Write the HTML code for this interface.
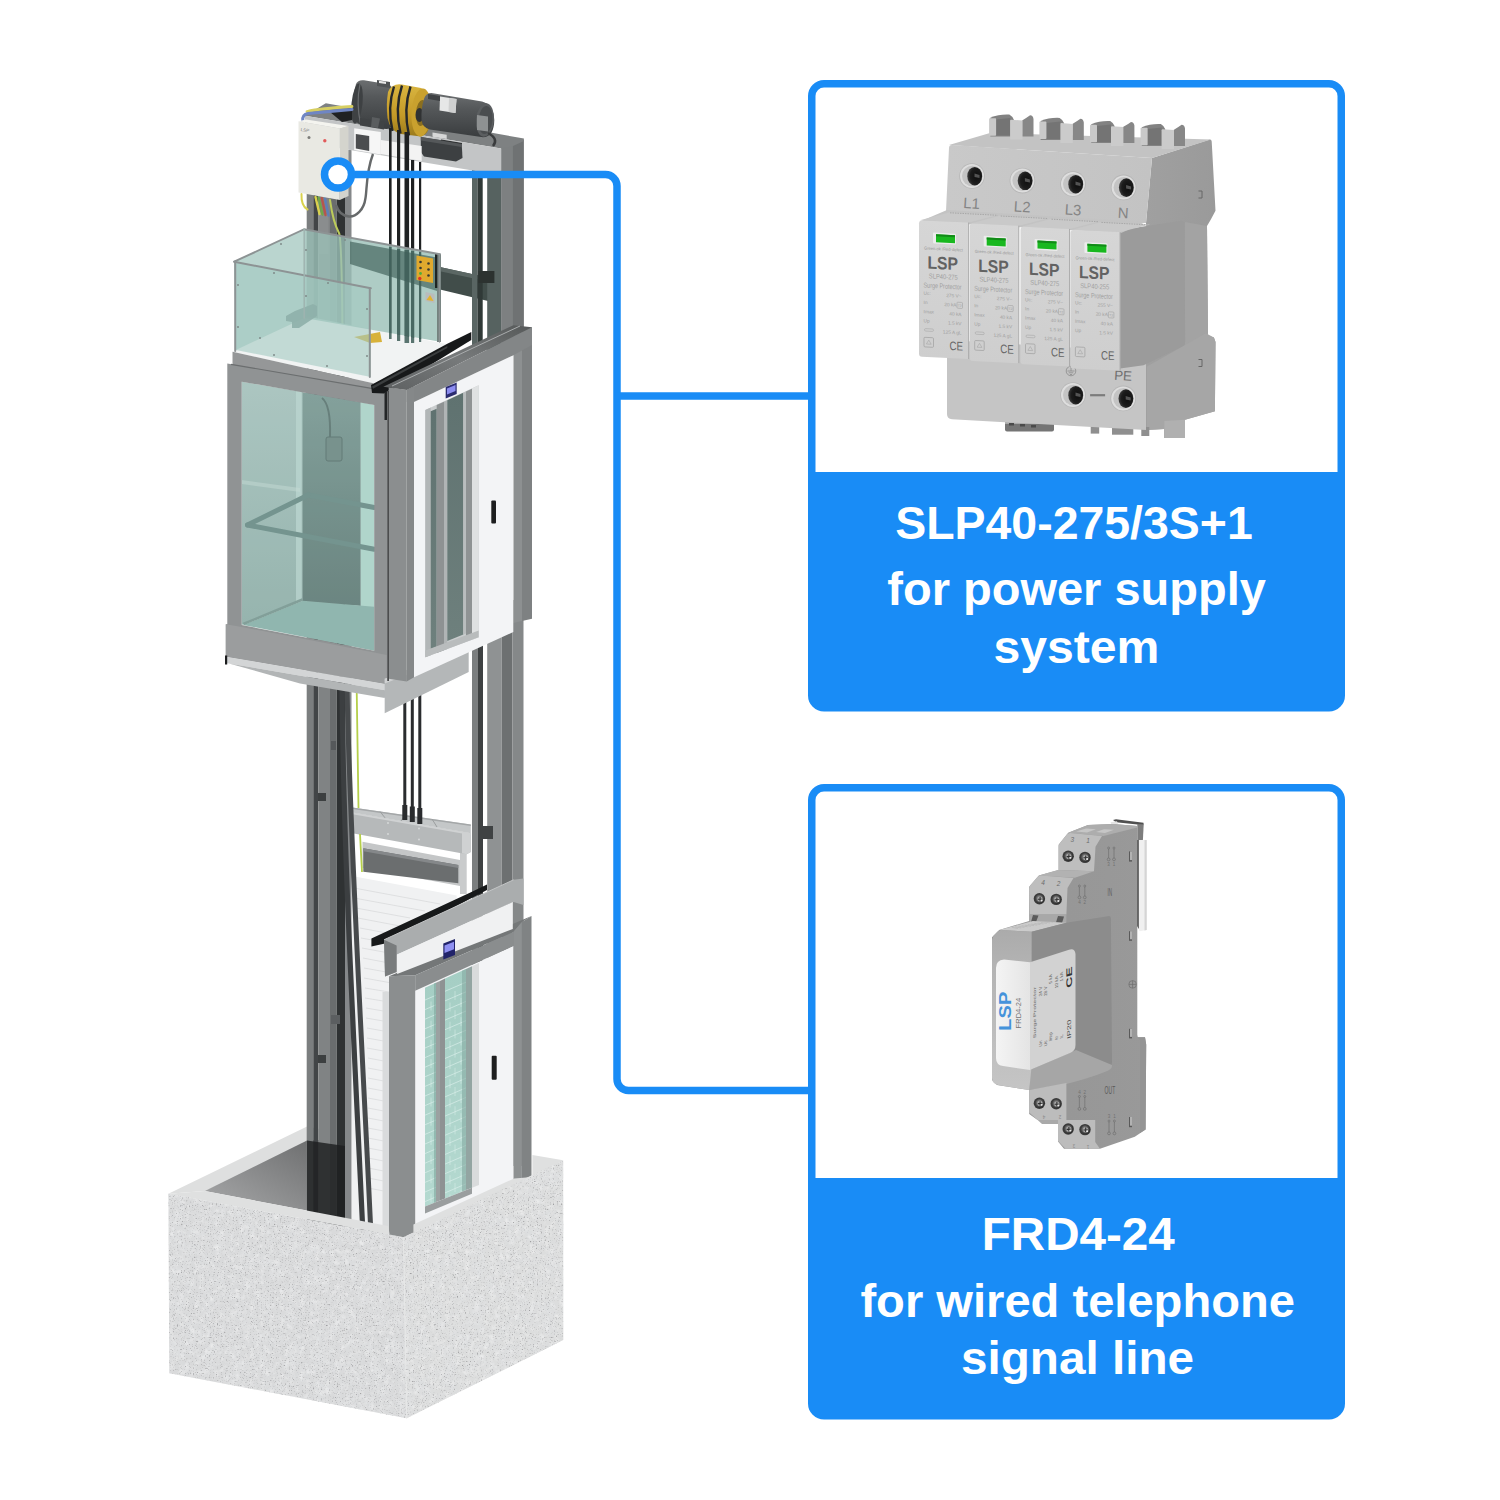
<!DOCTYPE html>
<html lang="en"><head><meta charset="utf-8"><title>Elevator surge protection</title>
<style>
html,body{margin:0;padding:0;background:#fff;}
body{width:1500px;height:1500px;overflow:hidden;font-family:"Liberation Sans",sans-serif;}
svg{display:block}
text{font-family:"Liberation Sans",sans-serif}
</style></head><body>
<svg width="1500" height="1500" viewBox="0 0 1500 1500">
<defs>
<linearGradient id="gPit" x1="1" y1="0" x2="0" y2="1"><stop offset="0" stop-color="#6b6c6d"/><stop offset="1" stop-color="#a9aaab"/></linearGradient>
<filter id="fNoise" x="0" y="0" width="100%" height="100%"><feTurbulence type="fractalNoise" baseFrequency="0.75" numOctaves="2" seed="3"/><feColorMatrix type="matrix" values="0 0 0 0 0.35  0 0 0 0 0.35  0 0 0 0 0.36  1.6 1.6 1.6 0 -2.62"/><feComposite operator="in" in2="SourceGraphic"/></filter>
<filter id="fNoise2" x="0" y="0" width="100%" height="100%"><feTurbulence type="fractalNoise" baseFrequency="0.07" numOctaves="4" seed="8"/><feColorMatrix type="matrix" values="0 0 0 0 0.72  0 0 0 0 0.73  0 0 0 0 0.74  1.6 1.6 1.6 0 -2.15"/><feComposite operator="in" in2="SourceGraphic"/></filter>
<filter id="fNoise3" x="0" y="0" width="100%" height="100%"><feTurbulence type="fractalNoise" baseFrequency="0.2" numOctaves="3" seed="21"/><feColorMatrix type="matrix" values="0 0 0 0 1  0 0 0 0 1  0 0 0 0 1  1.3 1.3 1.3 0 -1.8"/><feComposite operator="in" in2="SourceGraphic"/></filter>
</defs>
<!-- concrete pit: back parts -->
<g id="concBack">
<!-- left rim top -->
<polygon points="168.400,1193.800 307,1126.600 320,1129 320,1142 204.800,1191" fill="#dedfdf"/>
<!-- pit inner wall -->
<polygon points="204.800,1191 307,1140.600 320,1140 320,1213 " fill="url(#gPit)"/>
</g>

<defs>
<linearGradient id="gMotor" x1="0" y1="0" x2="0" y2="1"><stop offset="0" stop-color="#6b6e70"/><stop offset=".35" stop-color="#55585a"/><stop offset="1" stop-color="#3a3d3f"/></linearGradient>
<linearGradient id="gYel" x1="0" y1="0" x2="0" y2="1"><stop offset="0" stop-color="#d9b540"/><stop offset=".6" stop-color="#c49a28"/><stop offset="1" stop-color="#9a7a1c"/></linearGradient>
</defs>
<!-- ===== gantry (back frame) ===== -->
<g id="gantry">
<!-- left column -->
<rect x="306.7" y="180" width="6.6" height="1060" fill="#7b7e7f"/>
<rect x="313.3" y="180" width="5" height="1060" fill="#424547"/>
<rect x="318.3" y="180" width="11.7" height="1060" fill="#808384"/>
<rect x="330" y="180" width="6.7" height="1060" fill="#6a6d6e"/>
<rect x="336.7" y="180" width="8.3" height="1060" fill="#2f3233"/>
<rect x="345" y="150" width="6.5" height="1090" fill="#85888a"/>
<!-- crossbar -->
<polygon points="441,267.300 488,277.500 488,301 441,289.800" fill="#414d4a"/><polygon points="441,267.300 488,277.500 488,281.500 441,271.500" fill="#5b6764"/>
<!-- right column inner rail -->
<rect x="472" y="170" width="5.500" height="180" fill="#596563"/><rect x="472" y="600" width="5.500" height="570" fill="#7b7e7f"/>
<rect x="477.500" y="170" width="5.200" height="180" fill="#303937"/><rect x="477.500" y="600" width="5.500" height="570" fill="#3e4142"/>
<!-- right column -->
<rect x="487.2" y="170" width="14" height="180" fill="#566260"/>
<rect x="501.1" y="146" width="12" height="204" fill="#7d8081"/>
<rect x="512.9" y="140" width="11" height="210" fill="#6f7273"/>
<rect x="487.2" y="600" width="14.500" height="566" fill="#8f9293"/>
<rect x="501.700" y="600" width="10.800" height="566" fill="#6d7071"/>
<rect x="512.500" y="600" width="11" height="566" fill="#858889"/>
<rect x="478.400" y="271" width="16" height="12" fill="#2c3230"/>
<!-- top beam -->
<polygon points="325.8,103.3 523.9,138.5 523.9,141 513,146 501.1,148.6 305,115.7" fill="#7e8182"/>
<polygon points="305,115.7 501.1,148.6 501.1,175.3 305,142.6" fill="#c3c5c6"/>

<!-- crossbar -->
</g>
<!-- ===== machine ===== -->
<g id="machine">
<!-- motor base right -->
<polygon points="420.800,137 461.700,143.500 462.500,158 456,161.500 424,156.500 420.800,152" fill="#3d4042"/>
<polygon points="420.800,137 461.700,143.500 461.700,147 420.800,140.500" fill="#55585a"/>
<!-- left motor body -->
<path d="M356 84 Q358 79.500 364 80.300 L388 84.200 Q392.500 85.500 392.500 92 L392.500 124 Q391 129.500 385 128.800 L362 125 Q356 123.500 354.500 118 Q350.500 103 356 84 Z" fill="url(#gMotor)"/>
<ellipse cx="357" cy="103.500" rx="5.500" ry="20" fill="#3e4143" transform="rotate(6 357 103.500)"/>
<path d="M360 84 Q356 103 360.500 123.500" stroke="#696c6e" stroke-width="1.200" fill="none"/>
<polygon points="377,80 390,82 390,88 377,86" fill="#505355"/><polygon points="379,80.800 386,81.800 386,84 379,83" fill="#e6e6e6"/>
<polygon points="360,118 384,122 384,129.500 360,125.500" fill="#404345"/>
<polygon points="372,117 380,118.500 378,128 371,127" fill="#5a5d5f"/>
<!-- yellow sheave -->
<path d="M388 92 Q392 83 402 84.500 L421 88 Q431.500 92 431.700 113 Q431 134 421 136.500 L401 134 Q390 131 387.500 118 Q386 104 388 92 Z" fill="url(#gYel)"/>
<ellipse cx="421.500" cy="112.500" rx="10" ry="24" fill="#c9a12e" transform="rotate(4 421.500 112.500)"/>
<ellipse cx="421.500" cy="113" rx="5.500" ry="13" fill="#8b6f1f" transform="rotate(4 421.500 113)"/>
<ellipse cx="419.500" cy="115" rx="4" ry="7" fill="#303233"/>
<g stroke="#26282a" stroke-width="2.400" fill="none">
<path d="M394 86.500 Q387 108 392.500 131"/>
<path d="M402 85.500 Q394.500 108 400.500 133.500"/>
<path d="M410.500 86.500 Q403 109 409 135.500"/>
</g>
<!-- right motor -->
<path d="M424 99 Q426 92.300 433 93.200 L482 101.500 Q493.500 104.500 494.300 120 Q494 137 483 137.200 L430 129.500 Q422.500 128 421.500 120 Q421 108 424 99 Z" fill="url(#gMotor)"/>
<ellipse cx="485" cy="120" rx="9" ry="16.700" fill="#5b5e60" transform="rotate(5 485 120)"/>
<ellipse cx="485.500" cy="120" rx="7" ry="14" fill="#4a4d4f" transform="rotate(5 485.500 120)"/>
<polygon points="477,115 488,116.500 488,131.500 477,130" fill="#8e9192"/>
<polygon points="440,96.500 456.500,99 455.500,113 439.500,110.500" fill="#e6e7e7"/>
<polygon points="449,98 456.500,99 455.500,113 448.500,112" fill="#cfd0d0"/>
<polygon points="428,94 440,96 440,101 428,99" fill="#3f4244"/>
<polygon points="432.500,132.500 446.700,134.700 446.700,139 432.500,136.800" fill="#d7d8d8"/>
<path d="M488 133 Q499 139 493 146" stroke="#3a3c3d" stroke-width="2.500" fill="none"/>
<path d="M441 140 L462 143.500" stroke="#2c2e2f" stroke-width="1"/>
</g>
<!-- junction boxes -->
<g id="jboxes">
<polygon points="380.8,140 421.7,146 421.7,161 380.8,154" fill="#f3f3f3"/>
<polygon points="354.2,128.3 380.8,132 380.8,154.5 354.2,150" fill="#f6f6f6"/>
<polygon points="355.8,134 369.2,136 369.2,151 355.8,148.5" fill="#4b4d4f"/>
<path d="M373 154 C366 172 367 190 365.500 198 C364 210 356 217 349 216.500 C342 216 338 211 336 205" stroke="#66696a" stroke-width="2.400" fill="none"/>
</g>
<!-- ropes -->
<g id="ropes" fill="#1f2122">
<rect x="389" y="128" width="2.6" height="215"/>
<rect x="397" y="130" width="3.2" height="215"/>
<rect x="404.5" y="132" width="4.6" height="215"/>
<rect x="411" y="160" width="3.2" height="187"/>
<rect x="419" y="162" width="2.2" height="180"/>
</g>
<!-- wires -->
<g id="wires" fill="none" stroke-width="2.400" stroke-linecap="round">
<polygon points="330,112 352,108 352,120 342,122" fill="#1f2122" stroke="none"/>
<path d="M307 111.500 Q320 108.500 352 106.500" stroke="#d7cf63" stroke-width="2.800"/>
<path d="M302.800 121 Q302 114.500 308 113.500 L352 109.500" stroke="#6f86c4" stroke-width="3"/>
<path d="M301.500 194 Q301 206 307.500 209.500" stroke="#d9d24e" stroke-width="2"/>
<rect x="318.500" y="214" width="10" height="40" fill="#8a8d8e" stroke="none"/>
<path d="M315.500 197 L319.500 214" stroke="#d9d24e"/>
<path d="M318.500 197.500 L322.500 214.500" stroke="#6fa64a"/>
<path d="M321.800 198 L325.500 215" stroke="#b6564c"/>
<path d="M325 198.500 L328.500 215.500" stroke="#5f7fb5"/>
<path d="M330 200 Q333 222 339 233 Q342 240 342.500 345" stroke="#bccb5a" stroke-width="2"/>
</g>
<!-- control box -->
<g id="cbox">
<polygon points="298.500,121.200 306,119.500 348.500,126 339.800,128.500" fill="#f4f4ef"/>
<polygon points="339.800,128.500 348.500,126 348.500,196 339.800,200" fill="#d4d4cd"/>
<polygon points="298.500,121.200 339.800,128.500 339.800,200 298.500,192.500" fill="#e9e9e3"/>
<circle cx="324.800" cy="140.700" r="1.700" fill="#e25a5a"/>
<circle cx="309" cy="137.500" r="1.500" fill="#7d7d7a"/>
<text x="300.500" y="131" font-size="4.500" fill="#77777a" transform="rotate(8 300 131)">LSP</text>
</g>

<!-- ===== mid shaft (between cabin and lower door) ===== -->
<g id="mid">
<!-- white brick back wall -->
<polygon points="352,876 456.700,895.500 456.700,1000 389.200,1000 389.200,1235 352,1235" fill="#f0f1f2"/>
<g stroke="#d9dbdc" stroke-width=".8" fill="none">
<path d="M354 888 L440 904"/><path d="M354 898 L425 911"/><path d="M356 908 L410 918"/><path d="M358 918 L400 926"/><path d="M360 928 L392 934"/>
<path d="M361 938 L389 943"/><path d="M362 948 L389 953"/><path d="M363 958 L389 963"/><path d="M364 968 L389 972.500"/><path d="M364 978 L389 982.500"/>
<path d="M365 988 L389 992"/><path d="M365 998 L389 1002"/><path d="M366 1008 L389 1012"/><path d="M366 1018 L389 1022"/><path d="M367 1028 L389 1032"/>
<path d="M367 1038 L389 1042"/><path d="M367 1048 L389 1052"/><path d="M368 1058 L389 1062"/><path d="M368 1068 L389 1072"/><path d="M368 1078 L389 1082"/>
<path d="M368 1088 L389 1092"/><path d="M368 1098 L389 1102"/><path d="M368 1108 L389 1112"/><path d="M368 1118 L389 1122"/><path d="M368 1128 L389 1132"/>
<path d="M368 1138 L389 1142"/><path d="M368 1148 L389 1152"/><path d="M368 1158 L389 1162"/><path d="M368 1168 L389 1172"/><path d="M368 1178 L389 1182"/><path d="M368 1188 L389 1192"/>
</g>
<rect x="382.500" y="992" width="6.700" height="240" fill="#d9dbdc"/>
<!-- lower dark bar -->
<polygon points="362.500,841.700 460,860 460,886 362.500,868" fill="#c4c6c7"/>
<polygon points="363.300,848.300 458.300,865 458.300,883.300 363.300,871.700" fill="#6b6e6f"/>
<polygon points="363.300,848.300 458.300,865 458.300,868 363.300,851.300" fill="#85888a"/>
<rect x="460" y="852" width="6.700" height="42" fill="#c9cbcc"/>
<!-- counterweight beam -->
<polygon points="352.500,807.500 470.800,824.500 470.800,833.300 352.500,812.500" fill="#c4c7c8"/>
<polygon points="352.500,807.500 470.800,824.500 470.800,826 352.500,809" fill="#a4a7a8"/>
<g stroke="#9b9e9f" stroke-width="1" fill="none"><path d="M380 811.500 L385 817.800"/><path d="M432 819 L437 827"/><path d="M405 815 L401 821"/></g>
<polygon points="352.500,812.500 470.800,833.300 470.800,852 466.700,854.200 352.500,833.300" fill="#b6b9ba"/>
<polygon points="352.500,812.500 470.800,833.300 470.800,835 352.500,814.200" fill="#d0d2d3"/>
<polygon points="462,831.700 470.800,833.300 470.800,852 466.700,854.200 462,853.300" fill="#cfd1d2"/>
<g fill="#d9dbdc"><circle cx="388" cy="823" r=".9"/><circle cx="388" cy="834" r=".9"/><circle cx="419" cy="828.500" r=".9"/><circle cx="419" cy="839.500" r=".9"/></g>
<!-- yellow-green wire -->
<path d="M356.700 690 L358.500 808 M360 834 L362 872" stroke="#b5cf4a" stroke-width="1.800" fill="none"/>
<!-- ropes below cabin -->
<g fill="#2a2c2e">
<rect x="403.300" y="690" width="3" height="118"/><rect x="410.800" y="690" width="3" height="120"/><rect x="418.300" y="690" width="3" height="122"/>
<rect x="402.300" y="805" width="5" height="15"/><rect x="409.800" y="806.500" width="5" height="15.500"/><rect x="417.300" y="808" width="5" height="16"/>
</g>
<!-- cables on left column -->
<path d="M342 690 C344 860 352 1000 363 1235" stroke="#3c3f41" stroke-width="5.200" fill="none"/>
<path d="M347 690 C351 860 360 1000 371 1235" stroke="#474a4c" stroke-width="5" fill="none"/>
<!-- brackets -->
<rect x="331" y="741" width="5" height="9" fill="#55585a"/><rect x="318" y="793" width="8" height="8" fill="#3c3f40"/>
<rect x="331" y="1015" width="9" height="9" fill="#5b5e60"/><rect x="318" y="1055" width="8" height="8" fill="#3c3f40"/>
<rect x="478" y="826" width="15" height="13" fill="#3f4243"/>
</g>

<defs>
<linearGradient id="gGlassL" x1="0" y1="0" x2="0" y2="1"><stop offset="0" stop-color="#adc6c1"/><stop offset="1" stop-color="#93b0aa"/></linearGradient>
<linearGradient id="gWallR" x1="0" y1="0" x2="0" y2="1"><stop offset="0" stop-color="#7d9994"/><stop offset=".55" stop-color="#6a8580"/><stop offset="1" stop-color="#5f7773"/></linearGradient>
<linearGradient id="gDoorGlass" x1="0" y1="0" x2="0" y2="1"><stop offset="0" stop-color="#5f7270"/><stop offset="1" stop-color="#6e807d"/></linearGradient>
<linearGradient id="gHdrTop" x1="0" y1="1" x2="1" y2="0"><stop offset="0" stop-color="#5e6162"/><stop offset=".5" stop-color="#777a7b"/><stop offset="1" stop-color="#565959"/></linearGradient>
</defs>
<!-- ===== cabin roof + railing ===== -->
<g id="roof">
<!-- roof slab top -->
<polygon points="232.5,351.7 305,316 447.5,344.2 373.3,383.3" fill="#f1f3f3"/>
<!-- slab front-left edge -->
<polygon points="232.5,351.7 373.3,383.3 373.3,394 232.5,366" fill="#959798"/>
<!-- items seen through: crossbar behind back-right glass -->
<!-- back-left railing glass -->
<polygon points="234.2,261.7 304.2,229.2 304.2,318 236,350" fill="#b0cfc8" opacity=".88"/>
<!-- back-right railing glass -->
<polygon points="304.2,229.2 440,254.2 440,341.7 304.2,318" fill="#9abfb6" opacity=".8"/>
<polygon points="350,241.500 439.500,258 439.500,291.700 350,264" fill="#4a6a63" opacity=".72"/>
<!-- ropes through glass (darker teal) -->
<g fill="#3f5f59" opacity=".85"><rect x="389" y="247" width="2.6" height="92"/><rect x="397" y="249" width="3.2" height="92"/><rect x="404.5" y="250" width="4.6" height="93"/><rect x="411" y="251" width="3.2" height="92"/><rect x="419" y="252" width="2.200" height="90"/></g>
<!-- buffer object on roof -->
<polygon points="286,316 295,311 313,304 317,306 317,316 299,328 292,328 292,322 286,321" fill="#6f8a86" opacity=".9"/>
<!-- warning sticker -->
<polygon points="354,337 380,332 382,342 370,343" fill="#d8b23a"/>
<!-- pendant box (yellow) -->
<polygon points="416.500,255.500 433,258.500 433,283 416.500,280" fill="#e0a92e"/>
<g fill="#3a3a32"><circle cx="420.500" cy="262" r="1.300"/><circle cx="428.500" cy="263.500" r="1.300"/><circle cx="420.500" cy="268" r="1.300"/><circle cx="428.500" cy="269.500" r="1.300"/><circle cx="428.500" cy="275.500" r="1.300"/></g>
<circle cx="420.500" cy="273.500" r="1.400" fill="#4fae3c"/><circle cx="419.800" cy="278.500" r="1.700" fill="#d8342a"/>
<rect x="437" y="254" width="4" height="88" fill="#75827f"/><rect x="435" y="254" width="2.300" height="34" fill="#1f2423"/>
<polygon points="425.500,292 434.500,294 434.500,303 425.500,301" fill="#b9bcbc"/>
<polygon points="430,295 433.500,301 426.500,300" fill="#e2b32f"/>
<!-- front-left railing glass -->
<polygon points="234.2,261.7 370.8,288.3 370.8,377 236,350" fill="#a3cac1" opacity=".6"/>
<!-- rails -->
<g stroke="#8d9394" stroke-width="2" fill="none" stroke-linecap="round">
<path d="M234.2 261.7 L304.2 229.2 L440 254.2"/>
<path d="M234.2 261.7 L370.8 288.3"/>
<path d="M235.2 261.7 V351"/>
<path d="M369.800 288.300 V377"/>
<path d="M304.200 229.200 V318" stroke-width="1.5" stroke="#9fb4b0"/>
<path d="M439.500 254.200 V342" stroke-width="1.500"/>
</g>
<g fill="#7f8b8a"><circle cx="238" cy="285" r="1"/><circle cx="238" cy="327" r="1"/><circle cx="274" cy="273" r="1"/><circle cx="328" cy="283" r="1"/><circle cx="367" cy="309" r="1"/><circle cx="367" cy="356" r="1"/><circle cx="274" cy="355" r="1"/><circle cx="327" cy="366" r="1"/><circle cx="306" cy="250" r="1"/><circle cx="306" cy="296" r="1"/><circle cx="260" cy="338" r="1"/><circle cx="281" cy="244" r="1"/><circle cx="345" cy="240" r="1"/></g>
</g>
<!-- ===== cabin body ===== -->
<g id="cabin">
<!-- interior seen through front-left glass -->
<polygon points="241.7,381.7 302.5,392 302.5,601 241.7,625" fill="url(#gGlassL)"/>
<polygon points="301.500,392 360.8,402 360.8,606 301.500,601" fill="url(#gWallR)"/>
<polygon points="360.8,402 374.2,405 374.2,651 360.8,606" fill="#b3d8ce"/>
<polygon points="243.3,625 302.5,600.8 374.2,606.7 374.2,650.8" fill="#8cb3ab"/>
<!-- lighter strips on left glass -->
<polygon points="296,391 302.5,392 302.5,601 296,603.500" fill="#c2dbd5" opacity=".7"/>
<polygon points="241.700,480 300,488 300,492 241.700,484" fill="#c9ddd8" opacity=".5"/>
<!-- intercom on back wall -->
<path d="M322 398 Q331 405 330 437" stroke="#5a706c" stroke-width="2" fill="none"/>
<rect x="326" y="437" width="16" height="24" rx="2" fill="#6e8782" stroke="#556b67" stroke-width="1"/>
<!-- handrails -->
<g stroke="#698984" stroke-width="5" fill="none" stroke-linecap="round">
<path d="M308.3 495 L374.2 507.5"/>
<path d="M247.5 525 L308.3 495"/>
<path d="M247.5 525 L374.2 549.2"/>
</g>
<!-- floor skirting -->
<path d="M243.300 624 L302.500 599.500" stroke="#7a9690" stroke-width="2.500" fill="none"/>
<!-- glass sheen overlay -->
<polygon points="241.7,381.7 374.2,405 374.2,650.8 241.7,625" fill="#a7c9c1" opacity=".18"/>
<!-- frame left face -->
<path fill="#909394" fill-rule="evenodd" d="M227.3 363.5 L387.5 391 L387.5 684.5 L225.8 656.7 L225.800 624.200 L227.300 624.200 Z M241.7 381.7 L374.2 405 L374.2 650.8 L241.7 625 Z"/>
<path d="M231 364.300 L373 388.700" stroke="#6b6e6f" stroke-width="1.200" fill="none"/>
<!-- sill -->
<polygon points="225.8,624.2 241.700,627 374.200,652.500 386.7,655 386.7,684.2 225.8,656.7" fill="#9b9d9e"/>
<polygon points="225.800,656.700 386.700,684.200 386.700,690.500 229,663.500 225.800,663" fill="#d3d5d6"/>
<rect x="225" y="655.500" width="2.200" height="9" fill="#1c1d1e"/>
<!-- underside platform -->
<polygon points="229,663.500 386.700,690.500 384.700,698 300,683.500" fill="#b2b5b6"/>
</g>

<!-- ===== upper landing door frame ===== -->
<g id="doorUp">
<!-- toe guard / apron under cabin door -->
<polygon points="384.700,678.700 468.700,646.700 468.700,672 384.700,713.300" fill="#b4b7b8"/>
<polygon points="384.700,678.700 468.700,646.700 468.700,651 384.700,683.500" fill="#cfd1d2"/>
<!-- black track on cabin roof -->
<polygon points="371,385 447.3,343.700 471.300,332 471.300,340 384,393.500 372,393" fill="#17191a"/>
<polygon points="372,386.500 447.300,346 447.300,348 373,388.700" fill="#3b3e3f"/>
<!-- right post -->
<polygon points="513.300,335 522,330 522,621 513.300,623" fill="#8d9091"/>
<polygon points="522,330 532,327.300 532,618.700 522,621" fill="#7e8182"/>
<!-- white panel -->
<polygon points="414,402 513.300,355.300 513.300,632 414,677.300" fill="#f3f4f6"/>
<!-- door glass assembly -->
<polygon points="425.300,410 478.700,385.300 478.700,637.300 425.300,657.300" fill="#c9cccd"/>
<polygon points="472,388.500 478.700,385.300 478.700,637.300 472,640" fill="#dfe1e2"/>
<polygon points="425.300,410 430.700,407.500 430.700,655.300 425.300,657.300" fill="#b2b6b7"/>
<polygon points="430.700,411.300 436.700,408.700 436.700,646.700 430.700,649" fill="url(#gDoorGlass)"/>
<polygon points="436.700,405 444,401.700 444,650.300 436.700,653" fill="#8e9293"/>
<polygon points="444,401.700 447.300,400.200 447.300,649 444,650.300" fill="#b0b4b5"/>
<polygon points="447.300,400.200 463.300,392.800 463.300,634.500 447.300,641" fill="url(#gDoorGlass)"/>
<polygon points="463.300,392.800 466,391.500 466,633.500 463.300,634.500" fill="#b9bdbe"/>
<polygon points="466,391.500 472,388.700 472,638.300 466,640.700" fill="#8f9394"/>
<polygon points="425.300,650.500 478.700,630.500 478.700,637.300 425.300,657.300" fill="#b9bcbd"/>
<!-- keyhole -->
<rect x="491.300" y="500.500" width="4.700" height="23" rx="1" fill="#1d1e1f"/>
<!-- header front -->
<polygon points="406.700,390 532,327.300 532,345 513.300,355.300 414,402 406.700,402" fill="#838687"/>
<!-- left post -->
<polygon points="388.700,387.300 406.700,390 406.700,681.500 388.700,678.700" fill="#8b8e8f"/>
<polygon points="406.700,390 414,386.300 414,677.300 406.700,681.500" fill="#858889"/>
<rect x="387.300" y="391" width="1.600" height="290" fill="#3c3e3f"/>
<!-- header top face -->
<polygon points="383.300,386.700 513.300,325.300 532,327.300 406.700,390" fill="url(#gHdrTop)"/>
<path d="M392 386 L520 326" stroke="#a9acad" stroke-width="1" fill="none"/>
<!-- display -->
<polygon points="445.700,387 456.700,382.500 456.700,394 445.700,398.500" fill="#2b2c70"/>
<polygon points="447,388.500 455.500,385 455.500,391 447,394.500" fill="#8c8cf0"/>
<rect x="384.500" y="392" width="2.500" height="28" fill="#232526"/>
</g>

<defs>
<linearGradient id="gLowGlass" x1="0" y1="0" x2="0" y2="1"><stop offset="0" stop-color="#a5cec4"/><stop offset="1" stop-color="#b4d9d0"/></linearGradient>
</defs>
<!-- ===== lower landing door frame ===== -->
<g id="doorLow">
<!-- black track -->
<polygon points="371.400,938.600 470.400,892.400 487,884.500 487,890 385,943.500 371.400,946.400" fill="#17191a"/>
<!-- header channel -->
<polygon points="384,939.800 513.600,879.800 523.500,878.500 523.500,905 513.600,902 396.600,954.800 396.600,972 385,976.500" fill="#aaadae"/>
<path d="M384 939.800 L513.600 879.800" stroke="#c3c5c6" stroke-width="1" fill="none"/>
<polygon points="384,939.800 396.600,945.500 396.600,972 385,976.500" fill="#797c7d"/>
<!-- frame top face (mostly hidden by white block) -->
<polygon points="389,976.300 531.500,916 521.900,921.900 513.300,932 415.200,975.200" fill="#747778"/>
<!-- white block -->
<polygon points="397.100,954.400 512.800,902.100 512.800,929 397.100,974.100" fill="#f0f1f2"/>
<!-- right post -->
<polygon points="513.300,932 521.900,921.900 521.900,1182 513.300,1186" fill="#8e9192"/>
<polygon points="521.900,921.900 531.500,916 531.500,1176 521.900,1182" fill="#808384"/>
<!-- white panel -->
<polygon points="415.200,990.700 513.300,945.900 513.300,1186 415.200,1232" fill="#f3f4f6"/>
<!-- door strips -->
<polygon points="425,987.7 436,982.7 436,1202.1 425,1206.5" fill="url(#gLowGlass)"/>
<polygon points="436,982.7 440,980.9 440,1200.5 436,1202.1" fill="#9ba1a1"/>
<polygon points="440,980.9 445,978.6 445,1198.5 440,1200.5" fill="#8e9293"/>
<polygon points="445,978.6 466,969.0 466,1190.1 445,1198.5" fill="url(#gLowGlass)"/>
<polygon points="466,969.0 472,966.3 472,1187.7 466,1190.1" fill="#93a5a2"/>
<polygon points="472,966.3 479,963.1 479,1184.9 472,1187.7" fill="#d9dbdc"/>
<g stroke="#dbefeb" stroke-width=".8" fill="none" opacity=".85"><path d="M425 1000.0 L436 995.2 M445 991.3 L466 982.2"/><path d="M425 1009.6 L436 1004.8 M445 1000.9 L466 991.8"/><path d="M425 1019.2 L436 1014.4 M445 1010.5 L466 1001.4"/><path d="M425 1028.8 L436 1024.0 M445 1020.1 L466 1011.0"/><path d="M425 1038.4 L436 1033.6 M445 1029.7 L466 1020.6"/><path d="M425 1048.0 L436 1043.2 M445 1039.3 L466 1030.2"/><path d="M425 1057.6 L436 1052.8 M445 1048.9 L466 1039.8"/><path d="M425 1067.2 L436 1062.4 M445 1058.5 L466 1049.4"/><path d="M425 1076.8 L436 1072.0 M445 1068.1 L466 1059.0"/><path d="M425 1086.4 L436 1081.6 M445 1077.7 L466 1068.6"/><path d="M425 1096.0 L436 1091.2 M445 1087.3 L466 1078.2"/><path d="M425 1105.6 L436 1100.8 M445 1096.9 L466 1087.8"/><path d="M425 1115.2 L436 1110.4 M445 1106.5 L466 1097.4"/><path d="M425 1124.8 L436 1120.0 M445 1116.1 L466 1107.0"/><path d="M425 1134.4 L436 1129.6 M445 1125.7 L466 1116.6"/><path d="M425 1144.0 L436 1139.2 M445 1135.3 L466 1126.2"/><path d="M425 1153.6 L436 1148.8 M445 1144.9 L466 1135.8"/><path d="M425 1163.2 L436 1158.4 M445 1154.5 L466 1145.4"/><path d="M425 1172.8 L436 1168.0 M445 1164.1 L466 1155.0"/><path d="M425 1182.4 L436 1177.6 M445 1173.7 L466 1164.6"/><path d="M425 1192.0 L436 1187.2 M445 1183.3 L466 1174.2"/><path d="M425 1201.6 L436 1196.8 M445 1192.9 L466 1183.8"/><path d="M425 1211.2 L436 1206.4 M445 1202.5 L466 1193.4"/></g>
<g stroke="#dbefeb" stroke-width=".7" fill="none" opacity=".7"><path d="M431 1001.5 v9 M455 991.0 v9 M450 1002.5 v9 M461 998.0 v9"/><path d="M431 1020.7 v9 M455 1010.2 v9 M450 1021.7 v9 M461 1017.2 v9"/><path d="M431 1039.9 v9 M455 1029.4 v9 M450 1040.9 v9 M461 1036.4 v9"/><path d="M431 1059.1 v9 M455 1048.6 v9 M450 1060.1 v9 M461 1055.6 v9"/><path d="M431 1078.3 v9 M455 1067.8 v9 M450 1079.3 v9 M461 1074.8 v9"/><path d="M431 1097.5 v9 M455 1087.0 v9 M450 1098.5 v9 M461 1094.0 v9"/><path d="M431 1116.7 v9 M455 1106.2 v9 M450 1117.7 v9 M461 1113.2 v9"/><path d="M431 1135.9 v9 M455 1125.4 v9 M450 1136.9 v9 M461 1132.4 v9"/><path d="M431 1155.1 v9 M455 1144.6 v9 M450 1156.1 v9 M461 1151.6 v9"/><path d="M431 1174.3 v9 M455 1163.8 v9 M450 1175.3 v9 M461 1170.8 v9"/><path d="M431 1193.5 v9 M455 1183.0 v9 M450 1194.5 v9 M461 1190.0 v9"/></g>
<polygon points="434,983.6 436,982.7 436,1202.1 434,1202.9" fill="#7fa69d" opacity=".6"/>
<polygon points="462,970.8 466,969.0 466,1190.1 462,1191.7" fill="#86aaa2" opacity=".6"/>
<polygon points="425,1206.5 472,1187.7 472,1193.7 425,1213.5" fill="#9a9e9f"/>
<!-- keyhole -->
<rect x="491.700" y="1055.800" width="5" height="24" rx="1" fill="#1d1e1f"/>
<!-- header front -->
<polygon points="415.200,975.200 513.300,932 513.300,945.900 415.200,990.700" fill="#8a8d8e"/>
<!-- left post -->
<polygon points="389,976.300 415.200,975.200 415.200,1238 406.700,1241 389,1238" fill="#8b8e8f"/>
<!-- display -->
<polygon points="443.300,943.500 455,939 455,955 443.300,959.500" fill="#22246a"/>
<polygon points="444.500,945.500 454,941.800 454,949.200 444.500,952.900" fill="#8f90f2"/>
</g>

<!-- concrete pit: front parts -->
<g id="concFront">
<!-- dark pit shadow over column bottoms -->
<polygon points="307,1140.600 345,1146 345,1230 307,1222" fill="#1d1f20" opacity=".82"/>
<!-- front rim top -->
<polygon points="168.400,1193.800 204.800,1191 388.200,1226 389.600,1234.600 403.600,1237.200" fill="#dfe0e0"/>
<!-- right rim top -->
<polygon points="403.600,1237.200 413.400,1235.500 413.400,1224.600 514.200,1178.400 532.400,1177 563.200,1160.200 532.400,1155 532.400,1176" fill="#dfe0e0"/>
<!-- front-left face -->
<polygon points="168.400,1193.800 403.600,1237.200 406.700,1418.300 169.300,1373.300" fill="#d9dadb"/>
<!-- right face -->
<polygon points="403.600,1237.200 563.200,1160.200 563.300,1340 406.700,1418.300" fill="#dcdddd"/>
<!-- texture -->
<g>
<polygon points="168.400,1193.800 403.600,1237.200 563.200,1160.200 563.300,1340 406.700,1418.300 169.300,1373.300" fill="#000" filter="url(#fNoise2)"/>
<polygon points="168.400,1193.800 403.600,1237.200 563.200,1160.200 563.300,1340 406.700,1418.300 169.300,1373.300" fill="#000" filter="url(#fNoise3)" opacity=".4"/>
<polygon points="168.400,1193.800 403.600,1237.200 563.200,1160.200 563.300,1340 406.700,1418.300 169.300,1373.300" fill="#000" filter="url(#fNoise)"/>
</g>
<path d="M403.600 1237.200 L406.700 1418.300" stroke="#e6e7e7" stroke-width="1.200" fill="none"/>
</g>

<!-- connector lines -->
<g fill="none" stroke="#198cf6" stroke-width="7.5">
<path d="M355 174.5 H605.5 A11.5 11.5 0 0 1 617 186 V1079 A11.5 11.5 0 0 0 628.5 1090.5 H810"/>
<path d="M617 396 H810"/>
<circle cx="338" cy="174.5" r="13.5" fill="#fff"/>
</g>
<!-- panel 1 -->
<g>
<rect x="808" y="80" width="537" height="631.5" rx="16" fill="#198cf6"/>
<path d="M815.5 472 V96 A8.5 8.5 0 0 1 824 87.5 H1329 A8.5 8.5 0 0 1 1337.5 96 V472 Z" fill="#fff"/>
<g fill="#fff" font-weight="700" font-size="46.5" text-anchor="middle">
<text x="1074" y="538.8" textLength="357.5" lengthAdjust="spacingAndGlyphs">SLP40-275/3S+1</text>
<text x="1076.6" y="605.3" textLength="378.5" lengthAdjust="spacingAndGlyphs">for power supply</text>
<text x="1076.4" y="663.4" textLength="166" lengthAdjust="spacingAndGlyphs">system</text>
</g>
</g>
<!-- panel 2 -->
<g>
<rect x="808" y="784" width="537" height="635.5" rx="16" fill="#198cf6"/>
<path d="M815.5 1178 V800 A8.5 8.5 0 0 1 824 791.5 H1329 A8.5 8.5 0 0 1 1337.5 800 V1178 Z" fill="#fff"/>
<g fill="#fff" font-weight="700" font-size="46.5" text-anchor="middle">
<text x="1078.3" y="1249.7" textLength="193" lengthAdjust="spacingAndGlyphs">FRD4-24</text>
<text x="1077.7" y="1316.5" textLength="434.5" lengthAdjust="spacingAndGlyphs">for wired telephone</text>
<text x="1077.5" y="1374" textLength="233" lengthAdjust="spacingAndGlyphs">signal line</text>
</g>
</g>

<defs>
<linearGradient id="sFront" x1="0" y1="0" x2="1" y2="0"><stop offset="0" stop-color="#c9c9c9"/><stop offset="1" stop-color="#c3c3c3"/></linearGradient>
<linearGradient id="sSide" x1="0" y1="0" x2="1" y2="0"><stop offset="0" stop-color="#a0a0a0"/><stop offset="1" stop-color="#9a9a9a"/></linearGradient>
<linearGradient id="sMod" x1="0" y1="0" x2="0" y2="1"><stop offset="0" stop-color="#d6d6d6"/><stop offset="1" stop-color="#cecece"/></linearGradient>
<radialGradient id="sHole" cx=".62" cy=".5" r=".6"><stop offset="0" stop-color="#0e0e0e"/><stop offset=".7" stop-color="#1c1c1c"/><stop offset="1" stop-color="#3a3a3a"/></radialGradient>
</defs>
<g id="spd">
<path d="M1152 158 L1209 139.700 Q1211.500 139 1211.700 141.500 L1215.500 210.700 L1210.700 219.700 L1207 226 L1208 335.700 L1213.900 337.600 L1215.500 342 L1214.900 411.200 L1185 419.700 L1185 437.900 L1164.300 437.900 L1164.300 429 L1146 430 L1146 223 Z" fill="url(#sSide)"/>
<polygon points="1185,222 1207,226 1208,335.700 1185,346" fill="#a3a3a3"/>
<polygon points="1147,366.400 1205.900,333.300 1213.900,337.600 1215.500,342 1214.900,411.200 1185,419.700 1185,437.900 1164.300,437.900 1164.300,429 1147,430" fill="#a6a6a6"/>
<polygon points="1164.300,421 1185,419.700 1185,437.900 1164.300,437.900" fill="#b0b0b0"/>
<polygon points="949,145 990,133 1211,139.500 1152,158" fill="#c3c3c3"/>
<path d="M952 146.500 L1150 159.500" stroke="#d9d9d9" stroke-width="1.500" fill="none"/>
<path d="M990.3 117.7 Q999.1 114.0 1009.3 114.5 Q1012.1 116.0 1013.7 119.5 V136.5 H990.3 Z" fill="#828282"/>
<path d="M996.1 119.5 L1010.1 118.0 V135.5 H996.1 Z" fill="#747474"/>
<rect x="989.1" y="118.2" width="7" height="17.500" rx=".8" fill="#c9c9c9"/>
<path d="M1022.1 120.5 Q1027.1 117.5 1030.1 115.3 Q1033.1 115.5 1033.5 119.0 V136.5 H1022.1 Z" fill="#878787"/>
<path d="M1010.1 120.7 Q1010.1 119.7 1011.1 119.7 L1022.5 120.5 V139.5 H1010.1 Z" fill="#cbcbcb"/>
<path d="M1040.6 121.1 Q1049.4 117.4 1059.6 117.9 Q1062.4 119.4 1064.0 122.9 V139.9 H1040.6 Z" fill="#828282"/>
<path d="M1046.4 122.9 L1060.4 121.4 V138.9 H1046.4 Z" fill="#747474"/>
<rect x="1039.4" y="121.6" width="7" height="17.500" rx=".8" fill="#c9c9c9"/>
<path d="M1072.4 123.9 Q1077.4 120.9 1080.4 118.7 Q1083.4 118.9 1083.8 122.4 V139.9 H1072.4 Z" fill="#878787"/>
<path d="M1060.4 124.1 Q1060.4 123.1 1061.4 123.1 L1072.8 123.9 V142.9 H1060.4 Z" fill="#cbcbcb"/>
<path d="M1091.2 124.3 Q1100.0 120.6 1110.2 121.1 Q1113.0 122.6 1114.6 126.1 V143.1 H1091.2 Z" fill="#828282"/>
<path d="M1097.0 126.1 L1111.0 124.6 V142.1 H1097.0 Z" fill="#747474"/>
<rect x="1090.0" y="124.8" width="7" height="17.500" rx=".8" fill="#c9c9c9"/>
<path d="M1123.0 127.1 Q1128.0 124.1 1131.0 121.9 Q1134.0 122.1 1134.4 125.6 V143.1 H1123.0 Z" fill="#878787"/>
<path d="M1111.0 127.3 Q1111.0 126.3 1112.0 126.3 L1123.4 127.1 V146.1 H1111.0 Z" fill="#cbcbcb"/>
<path d="M1141.8 127.2 Q1150.6 123.5 1160.8 124.0 Q1163.6 125.5 1165.2 129.0 V146.0 H1141.8 Z" fill="#828282"/>
<path d="M1147.6 129.0 L1161.6 127.5 V145.0 H1147.6 Z" fill="#747474"/>
<rect x="1140.6" y="127.7" width="7" height="17.500" rx=".8" fill="#c9c9c9"/>
<path d="M1173.6 130.0 Q1178.6 127.0 1181.6 124.8 Q1184.6 125.0 1185.0 128.5 V146.0 H1173.6 Z" fill="#878787"/>
<path d="M1161.6 130.2 Q1161.6 129.2 1162.6 129.2 L1174.0 130.0 V149.0 H1161.6 Z" fill="#cbcbcb"/>
<path d="M949 148 Q949 144.700 952.500 145 L1152 158 L1146 223 L946 211 Z" fill="url(#sFront)"/>
<rect x="1005" y="420" width="49" height="11.500" rx="2" fill="#757575"/><rect x="1005" y="420" width="49" height="4" fill="#a9a9a9"/>
<g fill="#4a4a4a"><rect x="1009" y="423" width="5" height="2.500"/><rect x="1020" y="424" width="5" height="2.500"/><rect x="1031" y="425" width="5" height="2.500"/></g>
<g fill="#8f8f8f"><rect x="1090.700" y="425" width="8.500" height="8.600"/><rect x="1112" y="426" width="21.300" height="8.700"/><rect x="1141.300" y="427" width="8" height="9"/></g>
<path d="M947 340 L1146 352 L1146 430 L952 419.300 Q947 419 947 414 Z" fill="#c5c5c5"/>
<circle cx="972" cy="176" r="12.800" fill="#b7b7b7"/><circle cx="972" cy="176" r="12" fill="#dedede"/><circle cx="972.3" cy="176" r="10.300" fill="#c4c4c4"/><ellipse cx="974.7" cy="176.2" rx="7.400" ry="9.300" fill="url(#sHole)"/><path d="M974.5 173.5 l5 1.500 v3 l-5 -1z" fill="#6a6a6a" opacity=".75"/>
<circle cx="1022.4" cy="180.6" r="12.800" fill="#b7b7b7"/><circle cx="1022.4" cy="180.6" r="12" fill="#dedede"/><circle cx="1022.6999999999999" cy="180.6" r="10.300" fill="#c4c4c4"/><ellipse cx="1025.1" cy="180.79999999999998" rx="7.400" ry="9.300" fill="url(#sHole)"/><path d="M1024.9 178.1 l5 1.500 v3 l-5 -1z" fill="#6a6a6a" opacity=".75"/>
<circle cx="1073" cy="184" r="12.800" fill="#b7b7b7"/><circle cx="1073" cy="184" r="12" fill="#dedede"/><circle cx="1073.3" cy="184" r="10.300" fill="#c4c4c4"/><ellipse cx="1075.7" cy="184.2" rx="7.400" ry="9.300" fill="url(#sHole)"/><path d="M1075.5 181.5 l5 1.500 v3 l-5 -1z" fill="#6a6a6a" opacity=".75"/>
<circle cx="1123.6" cy="187.4" r="12.800" fill="#b7b7b7"/><circle cx="1123.6" cy="187.4" r="12" fill="#dedede"/><circle cx="1123.8999999999999" cy="187.4" r="10.300" fill="#c4c4c4"/><ellipse cx="1126.3" cy="187.6" rx="7.400" ry="9.300" fill="url(#sHole)"/><path d="M1126.1 184.9 l5 1.500 v3 l-5 -1z" fill="#6a6a6a" opacity=".75"/>
<circle cx="1073" cy="395" r="12.800" fill="#b7b7b7"/><circle cx="1073" cy="395" r="12" fill="#dedede"/><circle cx="1073.3" cy="395" r="10.300" fill="#c4c4c4"/><ellipse cx="1075.7" cy="395.2" rx="7.400" ry="9.300" fill="url(#sHole)"/><path d="M1075.5 392.5 l5 1.500 v3 l-5 -1z" fill="#6a6a6a" opacity=".75"/>
<circle cx="1123.2" cy="398.4" r="12.800" fill="#b7b7b7"/><circle cx="1123.2" cy="398.4" r="12" fill="#dedede"/><circle cx="1123.5" cy="398.4" r="10.300" fill="#c4c4c4"/><ellipse cx="1125.9" cy="398.59999999999997" rx="7.400" ry="9.300" fill="url(#sHole)"/><path d="M1125.7 395.9 l5 1.500 v3 l-5 -1z" fill="#6a6a6a" opacity=".75"/>
<rect x="1090.100" y="394.100" width="15" height="2.200" fill="#7c7c7c"/>
<g font-size="15" fill="#858585">
<text x="963" y="208" transform="rotate(3.400 963 208)">L1</text>
<text x="1013.6" y="211.4" transform="rotate(3.400 1013.6 211.4)">L2</text>
<text x="1064.4" y="214.6" transform="rotate(3.400 1064.4 214.6)">L3</text>
<text x="1117.6" y="217.7" transform="rotate(3.400 1117.6 217.7)">N</text>
</g>
<text x="1114" y="379.700" font-size="13.400" fill="#707070" transform="rotate(3.400 1113 379)">PE</text>
<g stroke="#8a8a8a" stroke-width=".8" fill="none"><circle cx="1071" cy="371" r="4.800"/><path d="M1071 366.200 V371 M1067.500 371 H1074.500 M1068.700 372.800 H1073.300 M1069.900 374.500 H1072.100"/></g>
<path d="M1120.100 229.900 L1181 220.800 Q1184.200 220.300 1184.300 223.500 L1185.200 341 Q1185.200 345 1181.500 346.800 L1143.600 365.300 L1120.100 368.500 Z" fill="#9b9b9b"/>
<path d="M1198.500 191 h3.500 v7 h-3.500" stroke="#666" stroke-width="1" fill="none"/><path d="M1198.500 359.500 h3.500 v7 h-3.500" stroke="#666" stroke-width="1" fill="none"/>
<polygon points="947,210 1146,222 1121,233 920,221.500" fill="#c3c3c3"/>
<polygon points="920,220.3 950,212.3 998.7,214.8 968.7,222.5" fill="#c9c9c9"/>
<path d="M950 212.8 L997.7 215.3" stroke="#9d9d9d" stroke-width=".8" stroke-dasharray="1.5 1" fill="none"/>
<polygon points="970.7,223.5 1000.7,215.5 1048.8,218.0 1018.8,225.7" fill="#c9c9c9"/>
<path d="M1000.7 216.0 L1047.8 218.5" stroke="#9d9d9d" stroke-width=".8" stroke-dasharray="1.5 1" fill="none"/>
<polygon points="1021.5,226.7 1051.5,218.7 1099.6,221.2 1069.6,228.89999999999998" fill="#c9c9c9"/>
<path d="M1051.5 219.2 L1098.6 221.7" stroke="#9d9d9d" stroke-width=".8" stroke-dasharray="1.5 1" fill="none"/>
<polygon points="1071.4,229.9 1101.4,221.9 1150.1,224.4 1120.1,232.1" fill="#c9c9c9"/>
<path d="M1101.4 222.4 L1149.1 224.9" stroke="#9d9d9d" stroke-width=".8" stroke-dasharray="1.5 1" fill="none"/>
<path d="M919 223.3 Q919 220.3 922 220.4 L968.7 222.5 L968.7 359.0 L922 356.8 Q919 356.6 919 353.8 Z" fill="url(#sMod)"/>
<path d="M968.7 222.5 V359.0" stroke="#a8a8a8" stroke-width="1" fill="none"/>
<g transform="translate(0.0 0.0) translate(919 220.300) skewY(3) translate(-919 -220.300)">
<rect x="933" y="231.800" width="23" height="10.800" rx="1" fill="#ececec"/>
<rect x="936" y="233.300" width="19" height="8" fill="#19b81f"/><rect x="936" y="233.300" width="19" height="2" fill="#128a18"/>
<text x="924" y="249.300" font-size="4.300" fill="#999" textLength="39" lengthAdjust="spacingAndGlyphs">Green-ok /Red-defect</text>
<text x="927.500" y="268" font-size="17.800" font-weight="700" fill="#626262" textLength="30.500" lengthAdjust="spacingAndGlyphs">LSP</text>
<text x="928.800" y="277.800" font-size="7" fill="#a0a0a0" textLength="29" lengthAdjust="spacingAndGlyphs">SLP40-275</text>
<text x="923.500" y="287.300" font-size="7.200" fill="#a0a0a0" textLength="38" lengthAdjust="spacingAndGlyphs">Surge Protector</text>
<text x="923.600" y="294.5" font-size="4.800" fill="#a0a0a0">Uc:</text>
<text x="961.5" y="295.5" font-size="4.800" fill="#a0a0a0" text-anchor="end">275 V~</text>
<text x="923.600" y="303.7" font-size="4.800" fill="#a0a0a0">In</text>
<text x="956.5" y="304.7" font-size="4.800" fill="#a0a0a0" text-anchor="end">20 kA</text>
<rect x="957" y="300.2" width="5.500" height="6" rx=".8" fill="none" stroke="#a3a3a3" stroke-width=".6"/><text x="957.800" y="304.7" font-size="3.400" fill="#a3a3a3">T2</text>
<text x="923.600" y="312.9" font-size="4.800" fill="#a0a0a0">Imax</text>
<text x="961.5" y="313.9" font-size="4.800" fill="#a0a0a0" text-anchor="end">40 kA</text>
<text x="923.600" y="322.1" font-size="4.800" fill="#a0a0a0">Up</text>
<text x="961.5" y="323.1" font-size="4.800" fill="#a0a0a0" text-anchor="end">1.5 kV</text>
<rect x="924.500" y="328.3" width="9" height="2.400" rx="1.200" fill="none" stroke="#a7a7a7" stroke-width=".6"/>
<text x="961.5" y="332.3" font-size="4.800" fill="#a0a0a0" text-anchor="end"> 125 A gL</text>
<rect x="924" y="337" width="9.500" height="9.600" rx="1" fill="none" stroke="#a5a5a5" stroke-width=".8"/><path d="M928.800 339.600 l2.400 4 h-4.800z" fill="none" stroke="#a5a5a5" stroke-width=".6"/>
<text x="949.500" y="348.300" font-size="12.400" fill="#666" textLength="13.500" lengthAdjust="spacingAndGlyphs">CE</text>
</g>
<path d="M969.7 226.5 Q969.7 223.5 972.7 223.6 L1018.8 225.7 L1018.8 363.2 L972.7 361 Q969.7 360.8 969.7 358 Z" fill="url(#sMod)"/>
<path d="M1018.8 225.7 V363.2" stroke="#a8a8a8" stroke-width="1" fill="none"/>
<g transform="translate(50.7 3.2) translate(919 220.300) skewY(3) translate(-919 -220.300)">
<rect x="933" y="231.800" width="23" height="10.800" rx="1" fill="#ececec"/>
<rect x="936" y="233.300" width="19" height="8" fill="#19b81f"/><rect x="936" y="233.300" width="19" height="2" fill="#128a18"/>
<text x="924" y="249.300" font-size="4.300" fill="#999" textLength="39" lengthAdjust="spacingAndGlyphs">Green-ok /Red-defect</text>
<text x="927.500" y="268" font-size="17.800" font-weight="700" fill="#626262" textLength="30.500" lengthAdjust="spacingAndGlyphs">LSP</text>
<text x="928.800" y="277.800" font-size="7" fill="#a0a0a0" textLength="29" lengthAdjust="spacingAndGlyphs">SLP40-275</text>
<text x="923.500" y="287.300" font-size="7.200" fill="#a0a0a0" textLength="38" lengthAdjust="spacingAndGlyphs">Surge Protector</text>
<text x="923.600" y="294.5" font-size="4.800" fill="#a0a0a0">Uc:</text>
<text x="961.5" y="295.5" font-size="4.800" fill="#a0a0a0" text-anchor="end">275 V~</text>
<text x="923.600" y="303.7" font-size="4.800" fill="#a0a0a0">In</text>
<text x="956.5" y="304.7" font-size="4.800" fill="#a0a0a0" text-anchor="end">20 kA</text>
<rect x="957" y="300.2" width="5.500" height="6" rx=".8" fill="none" stroke="#a3a3a3" stroke-width=".6"/><text x="957.800" y="304.7" font-size="3.400" fill="#a3a3a3">T2</text>
<text x="923.600" y="312.9" font-size="4.800" fill="#a0a0a0">Imax</text>
<text x="961.5" y="313.9" font-size="4.800" fill="#a0a0a0" text-anchor="end">40 kA</text>
<text x="923.600" y="322.1" font-size="4.800" fill="#a0a0a0">Up</text>
<text x="961.5" y="323.1" font-size="4.800" fill="#a0a0a0" text-anchor="end">1.5 kV</text>
<rect x="924.500" y="328.3" width="9" height="2.400" rx="1.200" fill="none" stroke="#a7a7a7" stroke-width=".6"/>
<text x="961.5" y="332.3" font-size="4.800" fill="#a0a0a0" text-anchor="end"> 125 A gL</text>
<rect x="924" y="337" width="9.500" height="9.600" rx="1" fill="none" stroke="#a5a5a5" stroke-width=".8"/><path d="M928.800 339.600 l2.400 4 h-4.800z" fill="none" stroke="#a5a5a5" stroke-width=".6"/>
<text x="949.500" y="348.300" font-size="12.400" fill="#666" textLength="13.500" lengthAdjust="spacingAndGlyphs">CE</text>
</g>
<path d="M1020.5 229.7 Q1020.5 226.7 1023.5 226.79999999999998 L1069.6 228.89999999999998 L1069.6 366.5 L1023.5 364.3 Q1020.5 364.1 1020.5 361.3 Z" fill="url(#sMod)"/>
<path d="M1069.6 228.89999999999998 V366.5" stroke="#a8a8a8" stroke-width="1" fill="none"/>
<g transform="translate(101.5 6.4) translate(919 220.300) skewY(3) translate(-919 -220.300)">
<rect x="933" y="231.800" width="23" height="10.800" rx="1" fill="#ececec"/>
<rect x="936" y="233.300" width="19" height="8" fill="#19b81f"/><rect x="936" y="233.300" width="19" height="2" fill="#128a18"/>
<text x="924" y="249.300" font-size="4.300" fill="#999" textLength="39" lengthAdjust="spacingAndGlyphs">Green-ok /Red-defect</text>
<text x="927.500" y="268" font-size="17.800" font-weight="700" fill="#626262" textLength="30.500" lengthAdjust="spacingAndGlyphs">LSP</text>
<text x="928.800" y="277.800" font-size="7" fill="#a0a0a0" textLength="29" lengthAdjust="spacingAndGlyphs">SLP40-275</text>
<text x="923.500" y="287.300" font-size="7.200" fill="#a0a0a0" textLength="38" lengthAdjust="spacingAndGlyphs">Surge Protector</text>
<text x="923.600" y="294.5" font-size="4.800" fill="#a0a0a0">Uc:</text>
<text x="961.5" y="295.5" font-size="4.800" fill="#a0a0a0" text-anchor="end">275 V~</text>
<text x="923.600" y="303.7" font-size="4.800" fill="#a0a0a0">In</text>
<text x="956.5" y="304.7" font-size="4.800" fill="#a0a0a0" text-anchor="end">20 kA</text>
<rect x="957" y="300.2" width="5.500" height="6" rx=".8" fill="none" stroke="#a3a3a3" stroke-width=".6"/><text x="957.800" y="304.7" font-size="3.400" fill="#a3a3a3">T2</text>
<text x="923.600" y="312.9" font-size="4.800" fill="#a0a0a0">Imax</text>
<text x="961.5" y="313.9" font-size="4.800" fill="#a0a0a0" text-anchor="end">40 kA</text>
<text x="923.600" y="322.1" font-size="4.800" fill="#a0a0a0">Up</text>
<text x="961.5" y="323.1" font-size="4.800" fill="#a0a0a0" text-anchor="end">1.5 kV</text>
<rect x="924.500" y="328.3" width="9" height="2.400" rx="1.200" fill="none" stroke="#a7a7a7" stroke-width=".6"/>
<text x="961.5" y="332.3" font-size="4.800" fill="#a0a0a0" text-anchor="end"> 125 A gL</text>
<rect x="924" y="337" width="9.500" height="9.600" rx="1" fill="none" stroke="#a5a5a5" stroke-width=".8"/><path d="M928.800 339.600 l2.400 4 h-4.800z" fill="none" stroke="#a5a5a5" stroke-width=".6"/>
<text x="949.500" y="348.300" font-size="12.400" fill="#666" textLength="13.500" lengthAdjust="spacingAndGlyphs">CE</text>
</g>
<path d="M1070.4 232.9 Q1070.4 229.9 1073.4 230.0 L1120.1 232.1 L1120.1 370.7 L1073.4 368.5 Q1070.4 368.3 1070.4 365.5 Z" fill="url(#sMod)"/>
<path d="M1120.1 232.1 V370.7" stroke="#a8a8a8" stroke-width="1" fill="none"/>
<g transform="translate(151.4 9.6) translate(919 220.300) skewY(3) translate(-919 -220.300)">
<rect x="933" y="231.800" width="23" height="10.800" rx="1" fill="#ececec"/>
<rect x="936" y="233.300" width="19" height="8" fill="#19b81f"/><rect x="936" y="233.300" width="19" height="2" fill="#128a18"/>
<text x="924" y="249.300" font-size="4.300" fill="#999" textLength="39" lengthAdjust="spacingAndGlyphs">Green-ok /Red-defect</text>
<text x="927.500" y="268" font-size="17.800" font-weight="700" fill="#626262" textLength="30.500" lengthAdjust="spacingAndGlyphs">LSP</text>
<text x="928.800" y="277.800" font-size="7" fill="#a0a0a0" textLength="29" lengthAdjust="spacingAndGlyphs">SLP40-255</text>
<text x="923.500" y="287.300" font-size="7.200" fill="#a0a0a0" textLength="38" lengthAdjust="spacingAndGlyphs">Surge Protector</text>
<text x="923.600" y="294.5" font-size="4.800" fill="#a0a0a0">Uc:</text>
<text x="961.5" y="295.5" font-size="4.800" fill="#a0a0a0" text-anchor="end">255 V~</text>
<text x="923.600" y="303.7" font-size="4.800" fill="#a0a0a0">In</text>
<text x="956.5" y="304.7" font-size="4.800" fill="#a0a0a0" text-anchor="end">20 kA</text>
<rect x="957" y="300.2" width="5.500" height="6" rx=".8" fill="none" stroke="#a3a3a3" stroke-width=".6"/><text x="957.800" y="304.7" font-size="3.400" fill="#a3a3a3">T2</text>
<text x="923.600" y="312.9" font-size="4.800" fill="#a0a0a0">Imax</text>
<text x="961.5" y="313.9" font-size="4.800" fill="#a0a0a0" text-anchor="end">40 kA</text>
<text x="923.600" y="322.1" font-size="4.800" fill="#a0a0a0">Up</text>
<text x="961.5" y="323.1" font-size="4.800" fill="#a0a0a0" text-anchor="end">1.5 kV</text>
<rect x="924" y="337" width="9.500" height="9.600" rx="1" fill="none" stroke="#a5a5a5" stroke-width=".8"/><path d="M928.800 339.600 l2.400 4 h-4.800z" fill="none" stroke="#a5a5a5" stroke-width=".6"/>
<text x="949.500" y="348.300" font-size="12.400" fill="#666" textLength="13.500" lengthAdjust="spacingAndGlyphs">CE</text>
</g>
</g>
<defs>
<linearGradient id="fModF" x1="0" y1="0" x2="0" y2="1"><stop offset="0" stop-color="#ababab"/><stop offset=".25" stop-color="#b4b4b4"/><stop offset="1" stop-color="#c5c5c5"/></linearGradient>
<linearGradient id="fSide" x1="0" y1="0" x2="1" y2="0"><stop offset="0" stop-color="#959595"/><stop offset="1" stop-color="#999999"/></linearGradient>
<radialGradient id="fScrew" cx=".45" cy=".45" r=".6"><stop offset="0" stop-color="#bdbdbd"/><stop offset=".45" stop-color="#6d6d6d"/><stop offset="1" stop-color="#1e1e1e"/></radialGradient>
<linearGradient id="fLab" x1="0" y1="0" x2="1" y2="0"><stop offset="0" stop-color="#f4f4f4"/><stop offset="1" stop-color="#e4e4e4"/></linearGradient>
</defs>
<g id="frd">
<polygon points="1137.300,824.200 1143.700,824.600 1142.900,840 1137.300,840" fill="#7d7d7d"/>
<polygon points="1113,820.100 1116,819.300 1143.500,822.800 1143.700,824.800 1137.300,824.400 1116,822.200" fill="#505050"/>
<polygon points="1110.500,822.300 1117,821.300 1118,824 1111.500,824.600" fill="#e4e4e4"/>
<polygon points="1137,839.900 1146.700,839.900 1146.700,930 1139.600,931.200 1137,926" fill="#f0f0f0"/>
<polygon points="1137,839.900 1138.800,839.900 1138.800,929 1137,926" fill="#4f4f4f"/>
<polygon points="1144.500,839.900 1146.700,839.900 1146.700,930 1144.500,930.400" fill="#d5d5d5"/>
<path d="M1058.600 844.800 L1068.200 832.800 L1088 825 L1113 824 L1137.300 826 L1137.300 1034.800 L1137.800 1037.200 L1145 1037.200 L1146.200 1044.400 L1145.600 1129.600 L1134.800 1136.800 L1100 1148.800 L1064 1148.800 L1058 1141.600 L1058 1120 L1037.600 1120 L1029.200 1114 L1029.200 1090 L997 1085 L992 1080 L992 937.200 L999.200 930 L1029.200 921 L1029.200 886.800 L1038.800 875.400 L1058.600 870 Z" fill="url(#fSide)"/>
<rect x="1129" y="851.4" width="3" height="10.2" fill="#5a5a5a"/><rect x="1130" y="851.4" width="2" height="8.7" fill="#b2b2b2"/>
<rect x="1129" y="931.2" width="3" height="9.6" fill="#5a5a5a"/><rect x="1130" y="931.2" width="2" height="8.1" fill="#b2b2b2"/>
<rect x="1129" y="1028.8" width="3" height="9.6" fill="#5a5a5a"/><rect x="1130" y="1028.8" width="2" height="8.1" fill="#b2b2b2"/>
<rect x="1129" y="1117" width="3" height="10.2" fill="#5a5a5a"/><rect x="1130" y="1117" width="2" height="8.7" fill="#b2b2b2"/>
<polygon points="1137.200,1037.200 1145,1037.200 1146.200,1044.400 1145.600,1129.600 1140,1133 1140,1040" fill="#949494"/>
<polygon points="1068.200,832.800 1088,825 1113,824 1137.300,826 1137.300,827.600 1103.500,836.100" fill="#adadad"/>
<polygon points="1076,831.500 1086,828.500 1096,829.300 1087,832.500" fill="#c6c6c6"/><polygon points="1096,832 1104,829.300 1114,829.800 1105,833" fill="#c6c6c6"/>
<path d="M1058.600 847 Q1058.600 844.800 1060 843 L1066.800 834.500 Q1068.200 832.800 1070.500 833 L1102 836 L1095.500 846.800 L1094 871.200 L1058.600 870 Z" fill="#bebebe"/>
<polygon points="1038.800,875.400 1058,870 1094,871.200 1074.800,877.800" fill="#b2b2b2"/>
<path d="M1029.200 889 Q1029.200 886.800 1030.600 885.100 L1037.400 877 Q1038.800 875.400 1041 875.500 L1073.500 878 L1067.500 888 L1066.400 914.400 L1029.800 914.400 Z" fill="#bebebe"/>
<polygon points="1029.800,914.400 1066.400,914.400 1066.400,922.800 1032.800,921.500 1029.800,922" fill="#a8a8a8"/>
<polygon points="1033,915 1038.500,915.500 1036,922 1031,922" fill="#5b5b5b"/><polygon points="1058,916 1064,916.500 1062,923 1056,922.500" fill="#5b5b5b"/>
<polygon points="999.200,930 1032.800,921 1066.400,922.800 1031.600,931.800" fill="#cbcbcb"/>
<g stroke="#b2b2b2" stroke-width=".6"><path d="M1012.0 927.3 l6 1.200"/><path d="M1015.2 926.8 l6 1.200"/><path d="M1018.4 926.2 l6 1.200"/><path d="M1021.6 925.6 l6 1.200"/><path d="M1024.8 925.1 l6 1.200"/><path d="M1028.0 924.5 l6 1.200"/><path d="M1031.2 924.0 l6 1.200"/><path d="M1034.4 923.4 l6 1.200"/><path d="M1037.6 922.9 l6 1.200"/><path d="M1040.8 922.3 l6 1.200"/><path d="M1044.0 921.8 l6 1.200"/><path d="M1047.2 921.2 l6 1.200"/></g>
<path d="M1031.600 931.800 L1066.400 922.800 L1108 916.200 Q1110.800 915.600 1110.900 918.500 L1112 1062 Q1112 1068 1106 1070.500 L1029.200 1090 Z" fill="#8c8c8c"/>
<path d="M1030 1070 L1076 1050 L1112 1065 L1112 1066 Q1112 1069 1106 1071.500 Q1090 1078 1066.400 1084 L1029.200 1090 Z" fill="#a6a6a6"/>
<path d="M992 940 Q992 937.200 994 935.200 L997.500 931.700 Q999.200 930 1001.500 930.100 L1031.600 931.800 L1031.600 1066 L1029.200 1090 L999 1085.300 Q992 1084 992 1078 Z" fill="url(#fModF)"/>
<path d="M1030 962.300 L1069 949.700 Q1075 948 1075.500 954 L1075.500 1045 Q1075.500 1051 1070 1053 L1030 1070 Z" fill="#d2d2d2"/>
<path d="M996 968 Q996 960 1004 959.500 L1030 962.300 L1030 1070 L1003 1066 Q996 1065 996 1058 Z" fill="url(#fLab)"/>
<path d="M1029.200 1090 L1066.400 1083 L1066.400 1120 L1037.600 1120 L1029.200 1112.500 Z" fill="#bcbcbc"/>
<path d="M1058 1120 L1095.200 1120 L1095.200 1142 L1100 1148.800 L1065.500 1148.800 L1058 1141 Z" fill="#bcbcbc"/>
<polygon points="1037.600,1120 1058,1120 1058,1124 1042,1124" fill="#a9a9a9"/>
<circle cx="1068.2" cy="856.2" r="5.700" fill="#3a3a3a"/><circle cx="1068.6000000000001" cy="856.2" r="4.500" fill="url(#fScrew)"/><circle cx="1068.8" cy="856.4000000000001" r="2.600" fill="#a9a9a9"/><path d="M1066.6000000000001 856.6 h4.600 M1068.9 854.2 v4.600" stroke="#2f2f2f" stroke-width="1.100" fill="none"/><circle cx="1070.4" cy="857.8000000000001" r="1" fill="#e8e8e8"/>
<circle cx="1085" cy="857.4" r="5.700" fill="#3a3a3a"/><circle cx="1085.4" cy="857.4" r="4.500" fill="url(#fScrew)"/><circle cx="1085.6" cy="857.6" r="2.600" fill="#a9a9a9"/><path d="M1083.4 857.8 h4.600 M1085.7 855.4 v4.600" stroke="#2f2f2f" stroke-width="1.100" fill="none"/><circle cx="1087.2" cy="859.0" r="1" fill="#e8e8e8"/>
<circle cx="1039.4" cy="898.8" r="5.700" fill="#3a3a3a"/><circle cx="1039.8000000000002" cy="898.8" r="4.500" fill="url(#fScrew)"/><circle cx="1040.0" cy="899.0" r="2.600" fill="#a9a9a9"/><path d="M1037.8000000000002 899.1999999999999 h4.600 M1040.1000000000001 896.8 v4.600" stroke="#2f2f2f" stroke-width="1.100" fill="none"/><circle cx="1041.6000000000001" cy="900.4" r="1" fill="#e8e8e8"/>
<circle cx="1056.2" cy="899.4" r="5.700" fill="#3a3a3a"/><circle cx="1056.6000000000001" cy="899.4" r="4.500" fill="url(#fScrew)"/><circle cx="1056.8" cy="899.6" r="2.600" fill="#a9a9a9"/><path d="M1054.6000000000001 899.8 h4.600 M1056.9 897.4 v4.600" stroke="#2f2f2f" stroke-width="1.100" fill="none"/><circle cx="1058.4" cy="901.0" r="1" fill="#e8e8e8"/>
<circle cx="1039.4" cy="1103.2" r="5.700" fill="#3a3a3a"/><circle cx="1039.8000000000002" cy="1103.2" r="4.500" fill="url(#fScrew)"/><circle cx="1040.0" cy="1103.4" r="2.600" fill="#a9a9a9"/><path d="M1037.8000000000002 1103.6000000000001 h4.600 M1040.1000000000001 1101.2 v4.600" stroke="#2f2f2f" stroke-width="1.100" fill="none"/><circle cx="1041.6000000000001" cy="1104.8" r="1" fill="#e8e8e8"/>
<circle cx="1056.2" cy="1103.8" r="5.700" fill="#3a3a3a"/><circle cx="1056.6000000000001" cy="1103.8" r="4.500" fill="url(#fScrew)"/><circle cx="1056.8" cy="1104.0" r="2.600" fill="#a9a9a9"/><path d="M1054.6000000000001 1104.2 h4.600 M1056.9 1101.8 v4.600" stroke="#2f2f2f" stroke-width="1.100" fill="none"/><circle cx="1058.4" cy="1105.3999999999999" r="1" fill="#e8e8e8"/>
<circle cx="1068.2" cy="1129" r="5.700" fill="#3a3a3a"/><circle cx="1068.6000000000001" cy="1129" r="4.500" fill="url(#fScrew)"/><circle cx="1068.8" cy="1129.2" r="2.600" fill="#a9a9a9"/><path d="M1066.6000000000001 1129.4 h4.600 M1068.9 1127 v4.600" stroke="#2f2f2f" stroke-width="1.100" fill="none"/><circle cx="1070.4" cy="1130.6" r="1" fill="#e8e8e8"/>
<circle cx="1085" cy="1129.6" r="5.700" fill="#3a3a3a"/><circle cx="1085.4" cy="1129.6" r="4.500" fill="url(#fScrew)"/><circle cx="1085.6" cy="1129.8" r="2.600" fill="#a9a9a9"/><path d="M1083.4 1130.0 h4.600 M1085.7 1127.6 v4.600" stroke="#2f2f2f" stroke-width="1.100" fill="none"/><circle cx="1087.2" cy="1131.1999999999998" r="1" fill="#e8e8e8"/>
<g font-size="6.500" font-style="italic" fill="#6c6c6c" text-anchor="middle">
<text x="1072.4" y="841.8">3</text>
<text x="1088" y="843">1</text>
<text x="1043" y="885.4">4</text>
<text x="1058.6" y="886">2</text>
</g>
<g font-size="4.500" fill="#8a8a8a" text-anchor="middle">
<text x="1044" y="1117.5" transform="rotate(180 1044 1116.0)">4</text>
<text x="1060" y="1118" transform="rotate(180 1060 1116.5)">2</text>
<text x="1074" y="1147" transform="rotate(180 1074 1145.5)">3</text>
<text x="1088" y="1147.5" transform="rotate(180 1088 1146.0)">1</text>
</g>
<text x="1107.600" y="896.400" font-size="10.900" fill="#5e5e5e" textLength="4.600" lengthAdjust="spacingAndGlyphs">IN</text>
<text x="1104.600" y="1093.600" font-size="11.700" fill="#5a5a5a" textLength="10.600" lengthAdjust="spacingAndGlyphs">OUT</text>
<g stroke="#6a6a6a" stroke-width=".6" fill="none"><circle cx="1108.6" cy="848" r="1"/><path d="M1108.6 849 V858"/><circle cx="1108.6" cy="859.4" r="1.400"/></g>
<text x="1108.6" y="866" font-size="4.500" fill="#707070" text-anchor="middle">3</text>
<g stroke="#6a6a6a" stroke-width=".6" fill="none"><circle cx="1114.0" cy="848" r="1"/><path d="M1114.0 849 V858"/><circle cx="1114.0" cy="859.4" r="1.400"/></g>
<text x="1114.0" y="866" font-size="4.500" fill="#707070" text-anchor="middle">1</text>
<g stroke="#6a6a6a" stroke-width=".6" fill="none"><circle cx="1079.4" cy="886" r="1"/><path d="M1079.4 887 V896"/><circle cx="1079.4" cy="897.4" r="1.400"/></g>
<text x="1079.4" y="904" font-size="4.500" fill="#707070" text-anchor="middle">4</text>
<g stroke="#6a6a6a" stroke-width=".6" fill="none"><circle cx="1084.8000000000002" cy="886" r="1"/><path d="M1084.8000000000002 887 V896"/><circle cx="1084.8000000000002" cy="897.4" r="1.400"/></g>
<text x="1084.8000000000002" y="904" font-size="4.500" fill="#707070" text-anchor="middle">2</text>
<g stroke="#6a6a6a" stroke-width=".6" fill="none"><circle cx="1079.4" cy="1096.5" r="1"/><path d="M1079.4 1097.5 V1107.5"/><circle cx="1079.4" cy="1108.9" r="1.400"/></g>
<text x="1079.4" y="1093.5" font-size="4.500" fill="#707070" text-anchor="middle">4</text>
<g stroke="#6a6a6a" stroke-width=".6" fill="none"><circle cx="1084.8000000000002" cy="1096.5" r="1"/><path d="M1084.8000000000002 1097.5 V1107.5"/><circle cx="1084.8000000000002" cy="1108.9" r="1.400"/></g>
<text x="1084.8000000000002" y="1093.5" font-size="4.500" fill="#707070" text-anchor="middle">2</text>
<g stroke="#6a6a6a" stroke-width=".6" fill="none"><circle cx="1109.0" cy="1121" r="1"/><path d="M1109.0 1122 V1132"/><circle cx="1109.0" cy="1133.4" r="1.400"/></g>
<text x="1109.0" y="1118" font-size="4.500" fill="#707070" text-anchor="middle">3</text>
<g stroke="#6a6a6a" stroke-width=".6" fill="none"><circle cx="1114.4" cy="1121" r="1"/><path d="M1114.4 1122 V1132"/><circle cx="1114.4" cy="1133.4" r="1.400"/></g>
<text x="1114.4" y="1118" font-size="4.500" fill="#707070" text-anchor="middle">1</text>
<g stroke="#6f6f6f" stroke-width=".7" fill="none"><circle cx="1132.600" cy="984.400" r="3.800"/><path d="M1132.600 980.600 V988 M1129 984.400 H1136"/></g>
<text font-size="16.300" font-weight="700" fill="#4593db" transform="translate(1011.200 1030.700) rotate(-90)" textLength="39" lengthAdjust="spacingAndGlyphs">LSP</text>
<text font-size="7" fill="#747474" transform="translate(1021 1028.400) rotate(-90)" textLength="30.600" lengthAdjust="spacingAndGlyphs">FRD4-24</text>
<text font-size="4.2" fill="#858585" transform="matrix(0 -1 0.92 -0.3 1035.9 1037.7)" textLength="51" lengthAdjust="spacingAndGlyphs" font-weight="700">Surge Protector</text>
<text font-size="4.7" fill="#646464" transform="matrix(0 -1 0.92 -0.3 1041.8 1046.2)">Un</text>
<text font-size="4.7" fill="#646464" transform="matrix(0 -1 0.92 -0.3 1041.8 995.8)">24 V</text>
<text font-size="4.7" fill="#646464" transform="matrix(0 -1 0.92 -0.3 1046.7 1045.8)">Uc</text>
<text font-size="4.7" fill="#646464" transform="matrix(0 -1 0.92 -0.3 1046.7 995.5)">28 V</text>
<text font-size="4.7" fill="#646464" transform="matrix(0 -1 0.92 -0.3 1052.1 1040.8)">Iimp</text>
<text font-size="4.7" fill="#646464" transform="matrix(0 -1 0.92 -0.3 1052.1 983.2)">5 kA</text>
<text font-size="4.7" fill="#646464" transform="matrix(0 -1 0.92 -0.3 1058 1039.5)">In</text>
<text font-size="4.7" fill="#646464" transform="matrix(0 -1 0.92 -0.3 1058 987.7)">10 kA</text>
<text font-size="4.7" fill="#646464" transform="matrix(0 -1 0.92 -0.3 1063 1038)">IL</text>
<text font-size="4.7" fill="#646464" transform="matrix(0 -1 0.92 -0.3 1063 981)">1 kA</text>
<text font-size="6" fill="#4d4d4d" transform="matrix(0 -1 0.92 -0.3 1071 1038.1)" textLength="19" lengthAdjust="spacingAndGlyphs">IP20</text>
<text font-size="8.9" fill="#333" transform="matrix(0 -1 0.92 -0.3 1072.4 986.8)" textLength="20.7" lengthAdjust="spacingAndGlyphs" font-weight="700">CE</text>
</g>
</svg>
</body></html>
